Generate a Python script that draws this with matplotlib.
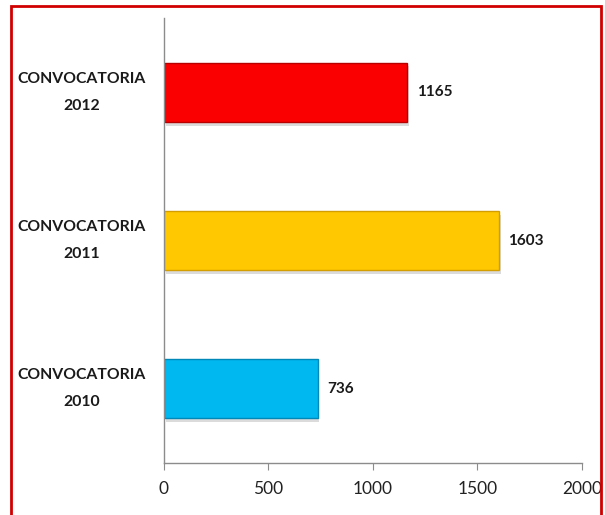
import matplotlib.pyplot as plt
from matplotlib.patches import Rectangle

# datos del grafico
categorias = ["CONVOCATORIA\n2010", "CONVOCATORIA\n2011", "CONVOCATORIA\n2012"]
valores = [736, 1603, 1165]
colores = ["#00B8F0", "#FFC800", "#FA0000"]
bordes = ["#0088B8", "#D49E00", "#B80000"]
ticks_x = [0, 500, 1000, 1500, 2000]

fig = plt.figure(figsize=(6.05, 5.15), dpi=100)
ax = fig.add_axes([0.271, 0.101, 0.691, 0.864])

# sombra debajo de cada barra
for i, v in enumerate(valores):
    ax.barh(i - 0.025, v, height=0.4, left=8, color="#9a9a9a", alpha=0.35, zorder=1)

barras = ax.barh(range(len(valores)), valores, height=0.4, color=colores,
                 edgecolor=bordes, linewidth=1.0, zorder=2)

for i, v in enumerate(valores):
    ax.text(v + 45, i, str(v), va="center", ha="left", fontsize=11,
            fontweight="bold", family="Lato", color="#1a1a1a")

ax.set_xlim(0, 2000)
ax.set_ylim(-0.5, 2.5)
ax.set_xticks(ticks_x)
ax.set_xticklabels([str(t) for t in ticks_x], fontsize=12.5, family="Lato", color="#222222")
ax.set_yticks(range(len(categorias)))
ax.set_yticklabels(categorias, fontsize=11.3, fontweight="bold", family="Lato",
                   color="#1a1a1a", multialignment="center", ha="center",
                   va="center", linespacing=2.2)
ax.tick_params(axis="y", length=0, pad=59)
ax.tick_params(axis="x", length=5, color="#8c8c8c", direction="out", pad=8)

for s in ["top", "right"]:
    ax.spines[s].set_visible(False)
for s in ["left", "bottom"]:
    ax.spines[s].set_color("#8c8c8c")
    ax.spines[s].set_linewidth(1.0)

# marco rojo
fig.patches.append(Rectangle((11 / 605, -0.01), 590 / 605, 1 - 6 / 515 + 0.01,
                             transform=fig.transFigure, fill=False,
                             edgecolor="#D00000", linewidth=2))

fig.savefig("out.png", dpi=100)
